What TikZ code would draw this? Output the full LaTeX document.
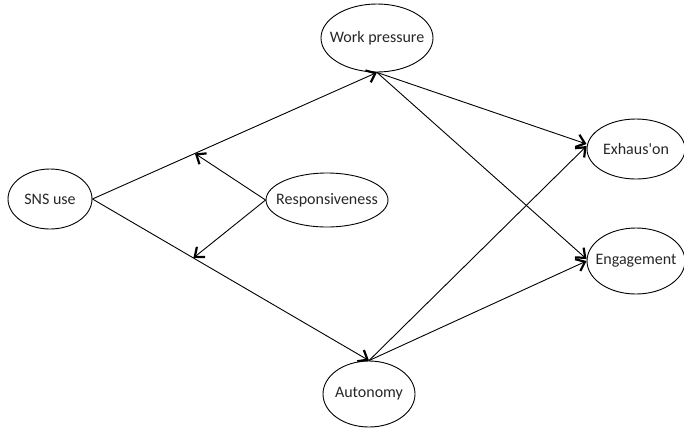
\documentclass[tikz,border=0pt]{standalone}
\usepackage{fontspec}
\setmainfont{Carlito}[Ligatures=TeXOff]
\usetikzlibrary{shapes.geometric,arrows.meta,calc}
\newcommand{\zw}[1]{\makebox[0pt]{#1}}
\begin{document}
\begin{tikzpicture}[x=1pt,y=-1pt,
  var/.style={draw, ellipse, line width=0.9pt, inner sep=0pt, text=black!85, font=\fontsize{16}{19}\selectfont},
  conn/.style={line width=0.9pt, -{Straight Barb[length=8pt,width=13pt,line width=2.2pt]}}]
\useasboundingbox (0,0) rectangle (684,429);
\node[var, minimum width=112pt, minimum height=68pt] (wp) at (377,38) {\zw{Work pressure}};
\node[var, minimum width=84pt, minimum height=60pt] (sns) at (50,199) {\zw{SNS use}};
\node[var, minimum width=122pt, minimum height=54pt] (resp) at (327,200) {\zw{Responsiveness}};
\node[var, minimum width=98pt, minimum height=60pt] (exh) at (636,149) {\zw{Exhaus'on}};
\node[var, minimum width=98pt, minimum height=66pt] (eng) at (636,261) {\zw{Engagement}};
\node[var, minimum width=92pt, minimum height=66pt] (aut) at (369,394) {\zw{Autonomy}};
\coordinate (m1) at ($(sns.east)!0.36!(wp.south)$);
\coordinate (m2) at ($(sns.east)!0.365!(aut.north)$);
\draw[conn] (sns.east) -- (wp.south);
\draw[conn] (sns.east) -- (aut.north);
\draw[conn] (resp.west) -- (m1);
\draw[conn] (resp.west) -- (m2);
\draw[conn] (wp.south) -- ($(exh.west)+(0,-5)$);
\draw[conn] (wp.south) -- ($(eng.west)+(0,-2)$);
\draw[conn] (aut.north) -- ($(exh.west)+(0,-3)$);
\draw[conn] (aut.north) -- (eng.west);
\end{tikzpicture}
\end{document}
